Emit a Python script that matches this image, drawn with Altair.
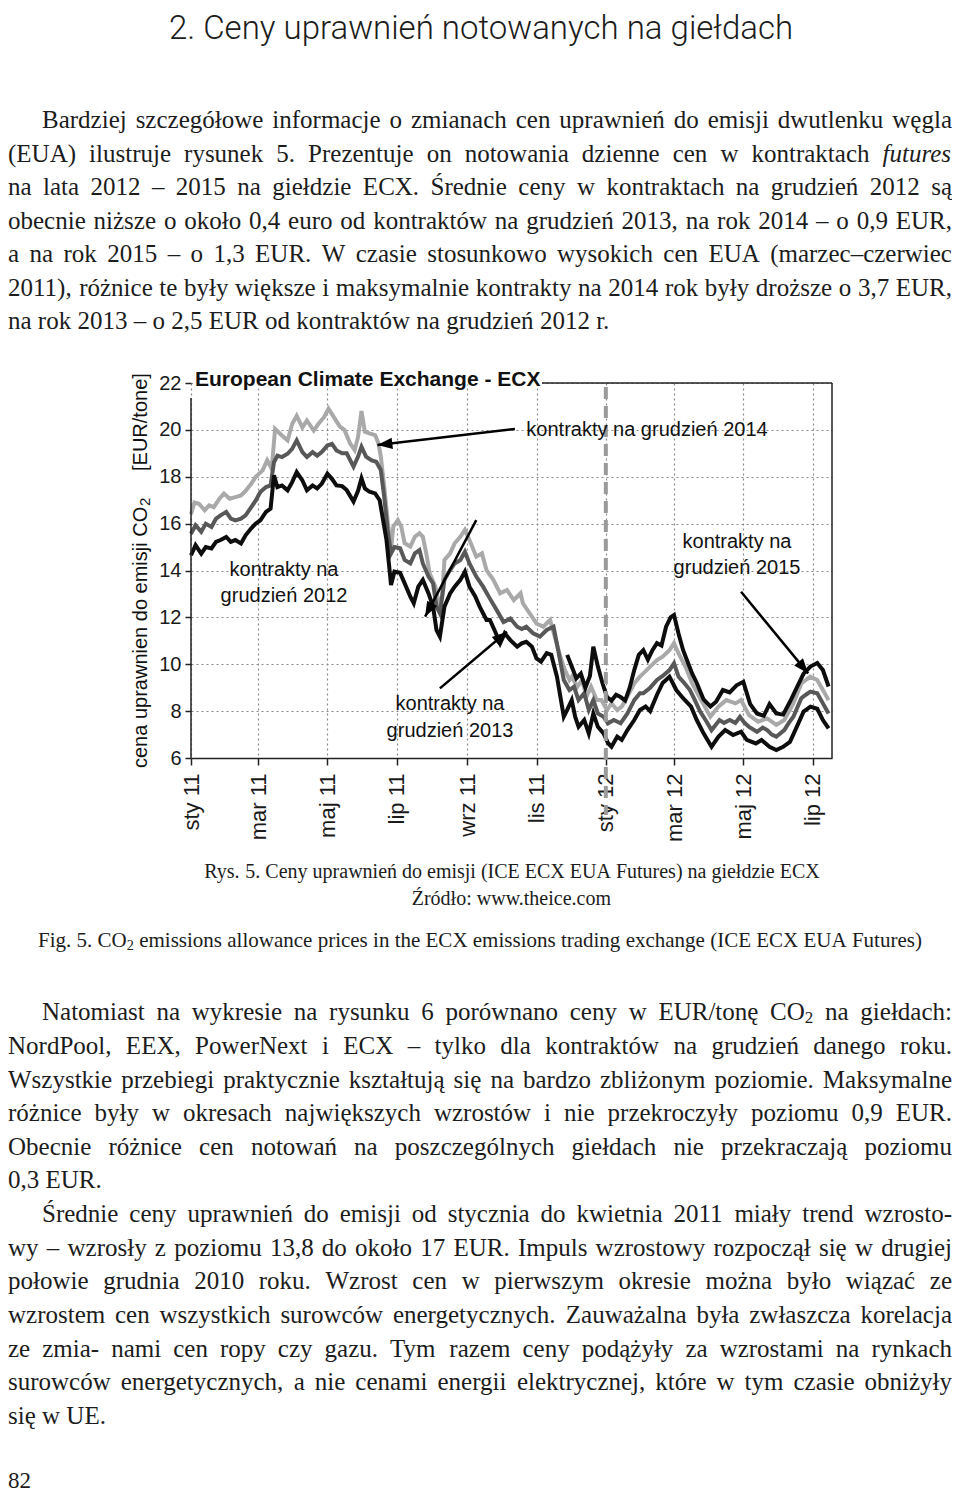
import json
import math
import altair as alt
import pandas as pd

# ---------------- data ----------------
# x = days since 1 Jan 2011, y = EUR / t
d2012 = [0,4,9,13,18,22,26,31,35,39,44,48,53,57,61,66,70,73,76,80,85,89,93,98,102,107,111,115,120,124,
         128,133,137,143,147,150,153,157,162,166,169,172,175,176,179,184,188,193,196,200,204,209,213,216,219,223,228,232,237,241,
         245,250,254,260,263,267,272,276,281,287,291,295,300,304,308,313,317,322,325,328,331,335,338,341,346,350,354,358,363,367,
         370,375,379,384,390,395,400,404,410,415,421,427,433,440,445,451,458,464,470,477,484,489,497,502,509,515,521,527,533,539,
         545,551,556,561]
v2012 = [14.65,15.08,14.72,15.0,14.94,15.22,15.3,15.43,15.22,15.3,15.15,15.5,15.8,16.0,16.14,16.5,16.64,18.06,17.56,17.63,
         17.42,17.77,18.2,17.84,17.42,17.63,17.5,17.7,18.13,17.91,17.63,17.6,17.43,16.94,17.4,17.93,17.5,17.36,17.29,17.0,
         16.15,15.3,13.88,13.38,13.95,13.9,13.45,12.88,12.6,13.31,13.6,13.02,12.46,11.46,11.18,12.46,13.02,13.31,13.6,13.95,
         13.31,12.9,12.46,11.89,11.89,11.46,10.89,11.32,11.03,10.75,10.89,10.96,10.75,10.25,10.11,10.47,10.4,9.47,8.62,7.76,
         8.05,8.47,7.76,7.33,7.62,7.05,7.9,7.33,7.05,6.63,6.48,6.91,6.77,7.19,7.62,8.05,8.2,8.0,8.7,9.2,
         9.47,8.9,8.55,8.19,7.62,7.05,6.48,6.9,7.19,6.98,7.12,6.77,6.62,6.77,6.48,6.34,6.48,6.69,7.33,7.98,
         8.19,8.1,7.62,7.26]

d2013 = [0,4,9,13,18,22,26,31,35,39,44,48,53,57,61,66,70,73,76,80,85,89,93,98,102,107,111,115,120,124,
         128,133,137,143,147,150,154,159,163,167,170,173,176,179,184,188,193,197,201,204,209,213,216,219,223,228,232,237,241,245,
         251,257,263,269,275,281,287,291,295,301,307,313,319,323,328,333,337,341,346,350,354,358,363,367,372,378,384,390,395,398,
         404,410,415,421,425,429,434,439,443,448,453,458,465,469,474,479,483,487,491,498,503,507,511,515,522,526,530,537,541,545,
         551,556,561]
v2013 = [15.57,15.93,15.65,16.0,15.86,16.21,16.35,16.5,16.21,16.14,16.21,16.35,16.7,16.99,17.35,17.56,17.63,18.62,18.9,18.84,
         18.98,19.19,19.55,19.05,18.84,19.05,18.9,19.05,19.33,19.4,19.12,19.0,19.0,18.43,18.86,19.28,18.86,18.7,18.64,18.29,
         17.15,15.73,14.73,15.0,14.95,14.45,14.3,14.73,14.87,14.3,13.74,13.45,12.46,12.17,13.6,14.02,14.3,14.45,14.8,14.3,
         13.74,13.31,12.8,12.31,11.8,11.95,11.6,11.5,11.6,11.32,11.18,11.46,11.6,10.61,9.33,8.9,9.04,8.47,8.76,8.05,
         8.47,7.9,7.76,7.48,7.62,7.48,7.9,8.47,8.76,8.76,9.0,9.33,9.5,9.75,10.04,9.47,9.2,8.9,8.5,7.98,
         7.6,7.19,7.62,7.5,7.62,7.5,7.76,7.5,7.33,7.12,7.3,7.19,7.0,6.91,7.19,7.5,7.76,8.55,8.7,8.83,
         8.76,8.33,7.9]

d2014 = [0,3,7,12,16,20,25,29,34,39,44,48,53,57,63,67,71,74,80,85,89,93,98,102,108,112,117,121,125,131,
         135,140,144,147,150,153,157,162,165,167,170,173,176,178,182,185,188,193,197,201,204,207,210,215,218,221,223,228,232,237,
         241,245,251,256,260,266,272,278,284,290,292,298,304,310,316,320,325,329,333,335,340,344,348,352,357,361,366,370,375,379,
         384,390,395,398,404,410,415,421,425,429,435,441,448,457,464,471,479,484,491,499,507,515,522,530,537,545,551,556,561]
v2014 = [16.4,16.9,16.85,16.57,16.78,16.7,17.06,17.28,17.06,17.13,17.2,17.4,17.7,18.0,18.27,18.7,18.34,20.04,19.76,19.55,
         20.25,20.6,20.1,20.4,19.97,20.25,20.54,20.9,20.6,20.14,20.0,19.42,19.14,19.7,20.8,19.92,19.85,19.78,19.42,18.86,
         17.58,16.15,14.9,15.87,16.15,15.87,15.16,15.02,15.44,15.59,15.44,14.73,13.88,13.31,12.6,12.9,14.45,14.73,15.16,15.44,
         15.73,15.3,14.59,14.73,14.02,13.6,13.03,13.17,12.74,13.03,12.6,12.17,11.74,11.6,11.89,11.18,10.32,9.75,9.33,9.47,
         9.04,9.33,8.62,9.04,8.47,8.47,8.05,8.33,8.05,8.19,8.62,9.18,9.47,9.61,9.9,10.18,10.32,10.6,10.9,10.46,
         9.9,9.18,8.55,7.76,8.19,8.47,8.33,8.47,7.83,7.55,7.69,7.41,7.62,8.33,9.18,9.47,9.33,8.9,8.47]

d2015 = [331,335,339,343,347,351,354,358,362,366,370,374,378,382,386,390,394,398,402,406,
         410,414,418,422,425,429,433,437,441,445,451,457,462,468,474,480,486,492,498,504,
         509,515,521,527,533,539,545,551,556,561]
v2015 = [10.4,9.9,9.4,9.6,9.0,9.5,10.75,9.9,9.2,8.6,8.45,8.7,8.6,8.45,9.0,9.75,10.4,10.6,10.2,10.6,
         10.9,10.8,11.6,12.0,12.1,11.3,10.6,10.1,9.6,9.2,8.5,8.2,8.4,8.9,8.8,9.1,9.25,8.3,7.9,7.8,
         8.3,7.9,7.85,8.4,9.0,9.6,9.9,10.05,9.75,9.05]

tick_days = [0, 59, 120, 181, 243, 304, 365, 425, 486, 547]
tick_labels = ["sty 11", "mar 11", "maj 11", "lip 11", "wrz 11", "lis 11",
               "sty 12", "mar 12", "maj 12", "lip 12"]
y_ticks = [6, 8, 10, 12, 14, 16, 18, 20, 22]
split_day = [365]

# arrows: start (day, value) -> tip (day, value)
arrow_x1 = [285, 251, 219, 484]
arrow_y1 = [20.04, 16.15, 8.97, 13.09]
arrow_x2 = [164, 206, 278, 543]
arrow_y2 = [19.35, 12.03, 11.39, 9.61]

annot_text = ["kontrakty na grudzień 2014", "kontrakty na", "grudzień 2012",
              "kontrakty na", "grudzień 2013", "kontrakty na", "grudzień 2015"]
annot_px = [647, 284, 284, 450, 450, 737, 737]
annot_py = [430, 570, 596, 704, 731, 542, 568]

# ---------------- layout ----------------
PX0, PY0 = 191, 383          # page position of plot origin
W, H = 641, 375
XDOM = [0, 564]
YDOM = [6, 22]
PPD = W / (XDOM[1] - XDOM[0])     # px per day
PPU = H / (YDOM[1] - YDOM[0])     # px per EUR


def to_day(px):
    return XDOM[0] + (px - PX0) / PPD


def to_val(py):
    return YDOM[1] - (py - PY0) / PPU


# Times / Liberation Serif advance widths (1/1000 em)
TW = {' ': 250, '!': 333, '(': 333, ')': 333, ',': 250, '-': 333, '.': 250, '/': 278,
      ':': 278, ';': 278, '\u2013': 500, '[': 333, ']': 333}
for c in '0123456789':
    TW[c] = 500
TW.update(dict(a=444, b=500, c=444, d=500, e=444, f=333, g=500, h=500, i=278, j=278, k=500,
               l=278, m=778, n=500, o=500, p=500, q=500, r=333, s=389, t=278, u=500, v=500,
               w=722, x=500, y=500, z=444))
TW.update(dict(A=722, B=667, C=667, D=722, E=611, F=556, G=722, H=722, I=333, J=389, K=722,
               L=611, M=889, N=722, O=722, P=556, Q=722, R=667, S=556, T=611, U=722, V=722,
               W=944, X=722, Y=722, Z=611))
TW.update({'ą': 444, 'ć': 444, 'ę': 444, 'ł': 278, 'ń': 500, 'ó': 500, 'ś': 389, 'ź': 444,
           'ż': 444, 'Ś': 556, 'Ź': 611, 'Ż': 611, 'Ł': 611})

SUB = 0.68


def runs(word):
    if word.startswith('*') and word.endswith('*'):
        return [(word[1:-1], 'i')]
    out, buf = [], ''
    for ch in word:
        if ch == '\u2082':
            if buf:
                out.append((buf, 'n'))
                buf = ''
            out.append(('2', 's'))
        else:
            buf += ch
    if buf:
        out.append((buf, 'n'))
    return out


def run_w(text, kind, size):
    f = SUB if kind == 's' else 1.0
    return sum(TW.get(c, 500) for c in text) * size * f / 1000.0


rows = []


def place(line, y, size, x0=8, x1=952, mode='left', center=None):
    words = [runs(w) for w in line.split(' ')]
    widths = [sum(run_w(t, k, size) for t, k in rs) for rs in words]
    space = 0.25 * size
    total = sum(widths) + space * (len(words) - 1)
    gap = space
    if mode == 'justify' and len(words) > 1:
        gap = (x1 - x0 - sum(widths)) / (len(words) - 1)
    if mode == 'center':
        x0 = center - total / 2
    x = x0
    for rs, w in zip(words, widths):
        for t, k in rs:
            fs = size * SUB if k == 's' else size
            yy = y + size * 0.22 if k == 's' else y
            rows.append(dict(t=t, xd=to_day(x), yd=to_val(yy), fs=fs, kind=('i' if k == 'i' else 'n')))
            x += run_w(t, k, size)
        x += gap


BODY = 25
upper = [
    ("Bardziej szczegółowe informacje o zmianach cen uprawnień do emisji dwutlenku węgla", 120, 42, 'justify'),
    ("(EUA) ilustruje rysunek 5. Prezentuje on notowania dzienne cen w kontraktach *futures*", 153.5, 8, 'justify'),
    ("na lata 2012 \u2013 2015 na giełdzie ECX. Średnie ceny w kontraktach na grudzień 2012 są", 187, 8, 'justify'),
    ("obecnie niższe o około 0,4 euro od kontraktów na grudzień 2013, na rok 2014 \u2013 o 0,9 EUR,", 220.5, 8, 'justify'),
    ("a na rok 2015 \u2013 o 1,3 EUR. W czasie stosunkowo wysokich cen EUA (marzec\u2013czerwiec", 254, 8, 'justify'),
    ("2011), różnice te były większe i maksymalnie kontrakty na 2014 rok były droższe o 3,7 EUR,", 287.5, 8, 'justify'),
    ("na rok 2013 \u2013 o 2,5 EUR od kontraktów na grudzień 2012 r.", 321, 8, 'left'),
]
lower = [
    ("Natomiast na wykresie na rysunku 6 porównano ceny w EUR/tonę CO\u2082 na giełdach:", 1012, 42, 'justify'),
    ("NordPool, EEX, PowerNext i ECX \u2013 tylko dla kontraktów na grudzień danego roku.", 1046, 8, 'justify'),
    ("Wszystkie przebiegi praktycznie kształtują się na bardzo zbliżonym poziomie. Maksymalne", 1080, 8, 'justify'),
    ("różnice były w okresach największych wzrostów i nie przekroczyły poziomu 0,9 EUR.", 1113, 8, 'justify'),
    ("Obecnie różnice cen notowań na poszczególnych giełdach nie przekraczają poziomu", 1147, 8, 'justify'),
    ("0,3 EUR.", 1180, 8, 'left'),
    ("Średnie ceny uprawnień do emisji od stycznia do kwietnia 2011 miały trend wzrosto-", 1214, 42, 'justify'),
    ("wy \u2013 wzrosły z poziomu 13,8 do około 17 EUR. Impuls wzrostowy rozpoczął się w drugiej", 1248, 8, 'justify'),
    ("połowie grudnia 2010 roku. Wzrost cen w pierwszym okresie można było wiązać ze", 1281, 8, 'justify'),
    ("wzrostem cen wszystkich surowców energetycznych. Zauważalna była zwłaszcza korelacja", 1315, 8, 'justify'),
    ("ze zmia- nami cen ropy czy gazu. Tym razem ceny podążyły za wzrostami na rynkach", 1349, 8, 'justify'),
    ("surowców energetycznych, a nie cenami energii elektrycznej, które w tym czasie obniżyły", 1382, 8, 'justify'),
    ("się w UE.", 1416, 8, 'left'),
]
for txt, yy, x0, mode in upper + lower:
    place(txt, yy, BODY, x0=x0, mode=mode)

place("Rys. 5. Ceny uprawnień do emisji (ICE ECX EUA Futures) na giełdzie ECX", 872, 20, mode='center', center=512)
place("Źródło: www.theice.com", 899, 20, mode='center', center=512)
place("Fig. 5. CO\u2082 emissions allowance prices in the ECX emissions trading exchange (ICE ECX EUA Futures)",
      941, 21, mode='center', center=480)
place("82", 1481, 23, x0=8, mode='left')

serif = pd.DataFrame(rows)

# ---------------- scales & axes ----------------
label_expr = "%s[indexof(%s, datum.value)]" % (json.dumps(tick_labels, ensure_ascii=False), json.dumps(tick_days))

XS = alt.Scale(domain=XDOM, nice=False, zero=False)
YS = alt.Scale(domain=YDOM, nice=False, zero=False)

X_AXIS = dict(values=tick_days, labelExpr=label_expr, labelAngle=270, labelAlign='right',
              labelBaseline='middle', labelFont='Liberation Sans', labelFontSize=22,
              labelColor='#1a1a1a', labelPadding=8, labelOverlap=False, labelFlush=False,
              tickSize=7, tickColor='#222222', tickWidth=1.5, domainColor='#222222', domainWidth=1.5,
              grid=True, gridDash=[2, 3], gridColor='#8a8a8a', gridWidth=1.2, title=None)
Y_AXIS = dict(values=y_ticks, labelFont='Liberation Sans', labelFontSize=20, labelColor='#1a1a1a',
              labelPadding=4, tickSize=6, tickColor='#222222', tickWidth=1.5, domain=False,
              grid=True, gridDash=[2, 3], gridColor='#8a8a8a', gridWidth=1.2, title=None)


def X(field):
    return alt.X(field, scale=XS, axis=alt.Axis(**X_AXIS))


def Y(field):
    return alt.Y(field, scale=YS, axis=alt.Axis(**Y_AXIS))


def series(days, vals, color):
    df = pd.DataFrame({'day': days, 'v': vals})
    return alt.Chart(df).mark_line(color=color, strokeWidth=4, strokeJoin='miter').encode(
        x=X('day:Q'), y=Y('v:Q'))


l14 = series(d2014, v2014, '#a9a9a9')
l13 = series(d2013, v2013, '#585858')
l15 = series(d2015, v2015, '#0d0d0d')
l12 = series(d2012, v2012, '#0d0d0d')

dash = alt.Chart(pd.DataFrame({'d': split_day})).mark_rule(
    color='#9a9a9a', strokeWidth=4, strokeDash=[12, 7]).encode(
    x=X('d:Q'), y=alt.value(4), y2=alt.value(432))

frame_color = '#222222'
one = pd.DataFrame({'a': [0]})
left_rule = alt.Chart(one).mark_rule(color=frame_color, strokeWidth=1.5).encode(
    x=alt.value(0), y=alt.value(15), y2=alt.value(H))
top_rule = alt.Chart(one).mark_rule(color=frame_color, strokeWidth=1.5).encode(
    x=alt.value(542 - PX0), x2=alt.value(W), y=alt.value(0))
right_rule = alt.Chart(one).mark_rule(color=frame_color, strokeWidth=1.5).encode(
    x=alt.value(W), y=alt.value(0), y2=alt.value(H))
# hides the dotted grid line at 22 behind the chart title
mask_rule = alt.Chart(one).mark_rule(color='white', strokeWidth=3).encode(
    x=alt.value(2), x2=alt.value(542 - PX0), y=alt.value(0))

angles = []
for a, b, c, d in zip(arrow_x1, arrow_y1, arrow_x2, arrow_y2):
    dx = (c - a) * PPD
    dy = -(d - b) * PPU
    angles.append(math.degrees(math.atan2(dx, -dy)) % 360)
arrows = pd.DataFrame({'x1': arrow_x1, 'y1': arrow_y1, 'x2': arrow_x2, 'y2': arrow_y2, 'ang': angles})

arrow_lines = alt.Chart(arrows).mark_rule(color='#000', strokeWidth=2.5).encode(
    x=X('x1:Q'), y=Y('y1:Q'), x2='x2:Q', y2='y2:Q')
arrow_heads = alt.Chart(arrows).mark_point(
    shape='M0,0L-0.38,1L0.38,1Z', filled=True, size=900, opacity=1, color='#000', strokeWidth=0).encode(
    x=X('x2:Q'), y=Y('y2:Q'), angle=alt.Angle('ang:Q', scale=None))

annot = pd.DataFrame({'t': annot_text,
                      'xd': [to_day(p) for p in annot_px],
                      'yd': [to_val(p) for p in annot_py]})
annot_layer = alt.Chart(annot).mark_text(font='Liberation Sans', fontSize=20, color='#111',
                                         align='center', baseline='middle').encode(
    x=X('xd:Q'), y=Y('yd:Q'), text='t:N')

chart_title = alt.Chart(pd.DataFrame({'t': ["European Climate Exchange - ECX"],
                                      'xd': [to_day(195)], 'yd': [to_val(380)]})).mark_text(
    font='Liberation Sans', fontSize=21, fontWeight='bold', color='#111', align='left', baseline='middle').encode(
    x=X('xd:Q'), y=Y('yd:Q'), text='t:N')

ytitle = pd.DataFrame({
    't': ["cena uprawnien do emisji CO", "2", "[EUR/tone]"],
    'xd': [to_day(141), to_day(145), to_day(141)],
    'yd': [to_val(768), to_val(506), to_val(471)],
    'fs': [20, 15, 20],
})
ytitle_layer = alt.Chart(ytitle).mark_text(font='Liberation Sans', color='#111', angle=270,
                                           align='left', baseline='middle').encode(
    x=X('xd:Q'), y=Y('yd:Q'), text='t:N',
    size=alt.Size('fs:Q', scale=None, legend=None))

serif_n = alt.Chart(serif[serif.kind == 'n']).mark_text(
    font='Liberation Serif', color='#1c1c1c', align='left', baseline='middle').encode(
    x=X('xd:Q'), y=Y('yd:Q'), text='t:N',
    size=alt.Size('fs:Q', scale=None, legend=None))
serif_i = alt.Chart(serif[serif.kind == 'i']).mark_text(
    font='Liberation Serif', fontStyle='italic', color='#1c1c1c', align='left', baseline='middle').encode(
    x=X('xd:Q'), y=Y('yd:Q'), text='t:N',
    size=alt.Size('fs:Q', scale=None, legend=None))

page_title = alt.Chart(pd.DataFrame({'t': ["2. Ceny uprawnień notowanych na giełdach"],
                                     'xd': [to_day(481)], 'yd': [to_val(29)]})).mark_text(
    font='Roboto', fontWeight=300, fontSize=33, color='#1c1c1c', align='center', baseline='middle').encode(
    x=X('xd:Q'), y=Y('yd:Q'), text='t:N')

chart = alt.layer(
    l14, l13, l15, l12, dash, left_rule, top_rule, right_rule, mask_rule,
    arrow_lines, arrow_heads, annot_layer, chart_title, ytitle_layer,
    serif_n, serif_i, page_title,
).properties(
    width=W, height=H,
    autosize=alt.AutoSizeParams(type='none'),
    padding={'left': PX0 - 8, 'top': PY0 - 8, 'right': 944 - (PX0 - 8) - W,
             'bottom': 1485 - (PY0 - 8) - H},
    background='white',
).configure_view(stroke=None)

chart.save("out.html", embed_options={"renderer": "svg", "actions": False})
